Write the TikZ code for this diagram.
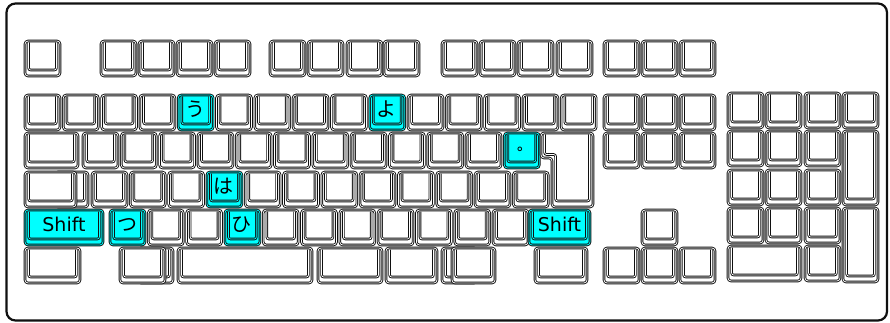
\documentclass[tikz,border=0pt]{standalone}
\usepackage{fontspec}
\setmainfont{DejaVu Sans}
\newfontfamily\jpfont{Noto Sans CJK JP}
\usepackage{tikz}
\usetikzlibrary{positioning}
\definecolor{ink}{HTML}{101010}
\definecolor{hicyan}{HTML}{00FFFF}

% one key cap: [fill]{left}{top}{width}{height}
\newcommand{\keycap}[5][white]{%
  \draw[keyrim,double=#1,fill=#1,rounded corners=3pt] (#2,#3) rectangle ++(#4,#5);
  \draw[keyrim,double=#1,rounded corners=2pt] (#2,#3) ++(3.6,1.5) -- ++(0,#5-7.5) -- ++(#4-7.2,0) -- ++(0,7.5-#5);}

\begin{document}
\begin{tikzpicture}[x=1pt,y=-1pt,
    keyrim/.style={draw=ink,line width=0.9pt,double distance=0.75pt},
    kana/.style={font=\jpfont\fontsize{20}{20}\selectfont,inner sep=0pt},
    capword/.style={font=\fontsize{19}{19}\selectfont,inner sep=0pt}]
  \useasboundingbox (0,0) rectangle (890,323);
  \draw[draw=ink,line width=2.2pt,rounded corners=9pt] (6.5,3.5) rectangle (887,320.5);
  % function row
  \keycap{25}{41}{35}{35}
  \foreach \x in {101,139,177,215,270,308,347,384,442,480,518,557,604,642,680}{\keycap{\x}{41}{35}{35}}
  % number row
  \foreach \c [count=\i from 0] in {white,white,white,white,hicyan,white,white,white,white,hicyan,white,white,white,white,white}{
     \keycap[\c]{25+38.3*\i}{95}{35}{35}}
  % upper letter row
  \keycap{25}{133}{53}{35}
  \foreach \c [count=\i from 0] in {white,white,white,white,white,white,white,white,white,white,white,hicyan}{
     \keycap[\c]{83+38.3*\i}{133}{35}{35}}
  \draw[keyrim,double=white,fill=white,rounded corners=3pt] (541,133) -- (593,133) -- (593,207) -- (552,207) -- (552,158) -- (541,158) -- cycle;
  \draw[keyrim,double=white,rounded corners=2pt] (544.6,134.5) -- (544.6,154.5) -- (555.6,154.5) -- (555.6,201) -- (589.4,201) -- (589.4,134.5);
  % home row
  \keycap{55}{172}{33}{35}
  \keycap{25}{172}{51}{35}
  \foreach \c [count=\i from 0] in {white,white,white,hicyan,white,white,white,white,white,white,white,white}{
     \keycap[\c]{92+38.3*\i}{172}{35}{35}}
  % lower letter row
  \keycap[hicyan]{25}{210}{78}{35}
  \foreach \c [count=\i from 0] in {hicyan,white,white,hicyan,white,white,white,white,white,white,white}{
     \keycap[\c]{110+38.3*\i}{210}{35}{35}}
  \keycap[hicyan]{529}{210}{61}{35}
  % bottom row
  \keycap{25}{248}{55}{35}
  \keycap{138}{248}{35}{35}
  \keycap{120}{248}{45}{35}
  \keycap{178}{248}{134}{35}
  \keycap{318}{248}{64}{35}
  \keycap{386}{248}{51}{35}
  \keycap{442}{248}{35}{35}
  \keycap{452}{248}{43}{35}
  \keycap{535}{248}{52}{35}
  % cursor block
  \foreach \y in {95,133}{\foreach \x in {604,642,680}{\keycap{\x}{\y}{35}{35}}}
  \keycap{642}{210}{35}{35}
  \foreach \x in {604,642,680}{\keycap{\x}{248}{35}{35}}
  % ten keys
  \foreach \x in {728,766,805,843}{\keycap{\x}{93}{35}{35}}
  \foreach \y in {131,170,208}{\foreach \x in {728,766,805}{\keycap{\x}{\y}{35}{35}}}
  \keycap{843}{131}{35}{74}
  \keycap{843}{208}{35}{74}
  \keycap{728}{246}{73}{35}
  \keycap{805}{246}{35}{35}
  % labels
  \node[kana] (ku) at (195.2,109.5) {う};
  \node[kana] (kyo) at (386.7,109.5) {よ};
  \node[kana] (kmaru) at (527,155) {゜};
  \node[kana] (kha) at (223.9,186.5) {は};
  \node[kana] (ktsu) at (127,224.5) {つ};
  \node[kana] (khi) at (241.9,224.5) {ひ};
  \node[capword] (lshift) at (64,224.5) {Shift};
  \node[capword] (rshift) at (559.5,224.5) {Shift};
\end{tikzpicture}
\end{document}
